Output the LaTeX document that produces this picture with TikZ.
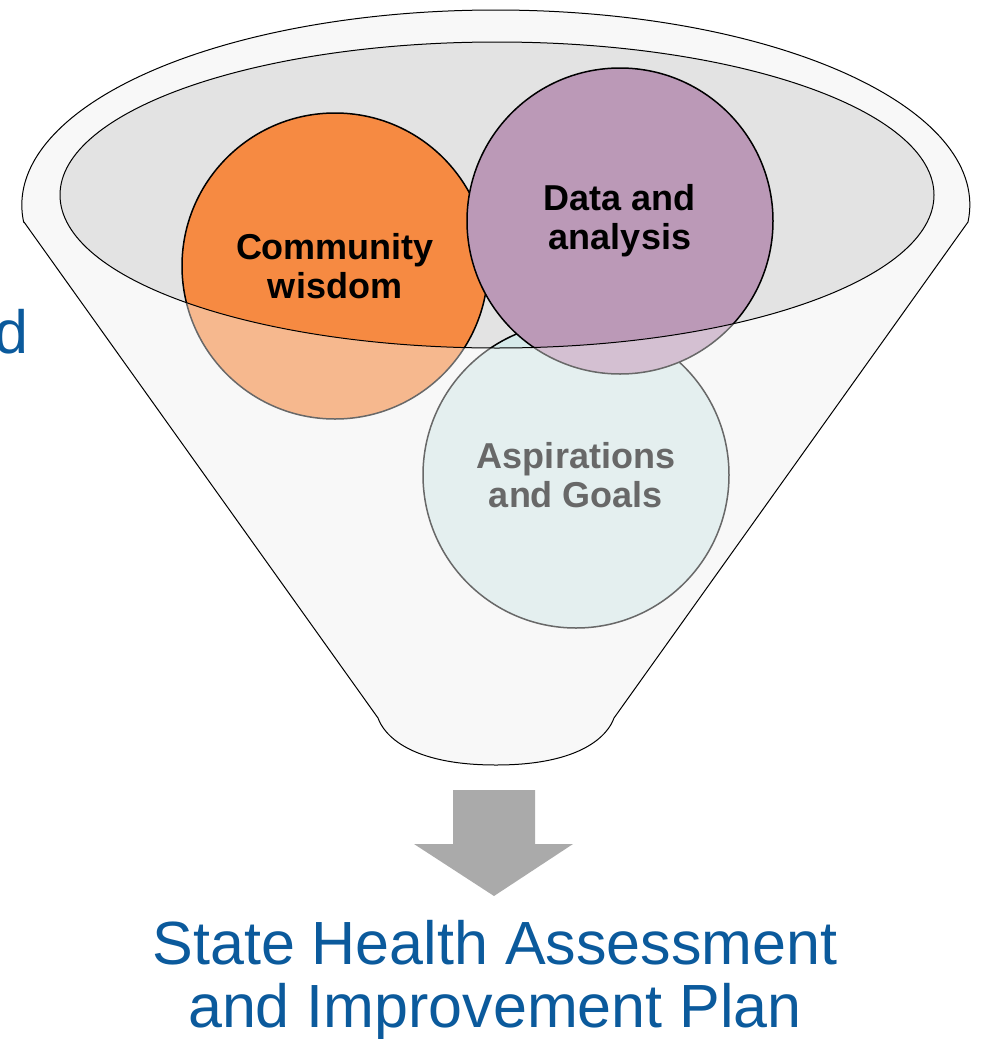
\documentclass[tikz,border=0pt]{standalone}
\usepackage{fontspec}
\setmainfont{Liberation Sans}
\usepackage{tikz}

\definecolor{wisdomorange}{HTML}{F68A42}
\definecolor{datapurple}{HTML}{BB99B7}
\definecolor{goalteal}{HTML}{D6EAEA}
\definecolor{rimgray}{HTML}{E3E3E3}
\definecolor{funnelwhite}{HTML}{F8F8F8}
\definecolor{planblue}{HTML}{0B5A9C}
\definecolor{arrowgray}{HTML}{AAAAAA}

\begin{document}
\begin{tikzpicture}[x=1pt, y=1pt,
  bubble/.style={circle, draw=black, line width=1.5pt, minimum size=306pt, inner sep=0pt, align=center, font=\fontsize{36}{39}\selectfont\bfseries},
  title/.style={text=planblue, inner sep=0pt, align=center, font=\fontsize{61}{63}\selectfont}]
\useasboundingbox (0,0) rectangle (982,-1039);

\fill[funnelwhite] (24,-222) -- (378,-718) .. controls (384,-735) and (410,-765) .. (496,-765) .. controls (582,-765) and (608,-735) .. (614,-718) -- (968,-222) arc[start angle=-5, end angle=185, x radius=474, y radius=195] -- cycle;
\fill[rimgray] (497,-195) ellipse [x radius=437, y radius=153];

\node[bubble, fill=goalteal] (goals) at (576,-475) {Aspirations\\and Goals};
\node[bubble, fill=wisdomorange] (wisdom) at (335,-266) {Community\\wisdom};
\node[bubble, fill=datapurple] (data) at (620,-221) {Data and\\analysis};

% front wall of the funnel
\fill[funnelwhite, opacity=0.42, even odd rule] (24,-222) -- (378,-718) .. controls (384,-735) and (410,-765) .. (496,-765) .. controls (582,-765) and (608,-735) .. (614,-718) -- (968,-222) arc[start angle=-5, end angle=185, x radius=474, y radius=195] -- cycle (497,-195) ellipse [x radius=437, y radius=153];
\draw[line width=1pt] (497,-195) ellipse [x radius=437, y radius=153];
\draw[line width=1pt] (24,-222) -- (378,-718) .. controls (384,-735) and (410,-765) .. (496,-765) .. controls (582,-765) and (608,-735) .. (614,-718) -- (968,-222) arc[start angle=-5, end angle=185, x radius=474, y radius=195] -- cycle;

\fill[arrowgray] (453,-790) -- (535,-790) -- (535,-844) -- (573,-844) -- (494,-896) -- (414,-844) -- (453,-844) -- cycle;

\node[title] (plan) at (495,-980) {State Health Assessment\\and Improvement Plan};
\node[title, anchor=base east] (cut) at (29,-353) {d};
\end{tikzpicture}
\end{document}
